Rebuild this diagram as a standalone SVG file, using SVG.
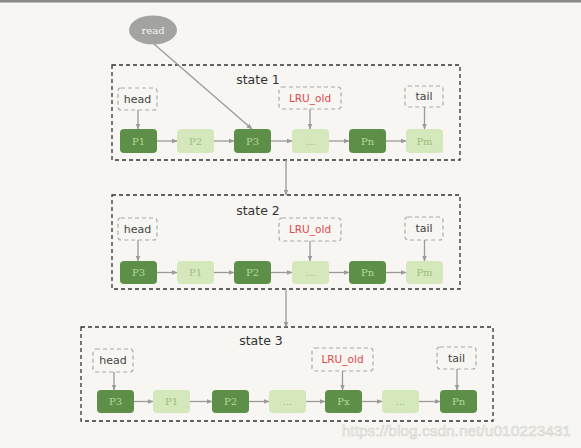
<svg xmlns="http://www.w3.org/2000/svg" width="581" height="448" viewBox="0 0 581 448">
<defs>
<marker id="ah" viewBox="0 0 10 10" refX="9" refY="5" markerWidth="6" markerHeight="6" orient="auto" markerUnits="userSpaceOnUse">
<path d="M0,1 L10,5 L0,9 z" fill="#9a9a98"/>
</marker>
<style>
.frame{fill:none;stroke:#333;stroke-width:1.3;stroke-dasharray:4,3}
.ptr{fill:#f7f6f2;stroke:#aaa;stroke-width:1.2;stroke-dasharray:4,3}
.dk{fill:#5e8f48}
.lt{fill:#d4e8bb}
.dkt{fill:#b4d89a;font-family:"DejaVu Serif",serif;font-size:10px;text-anchor:middle}
.ltt{fill:#9cbf7c;font-family:"DejaVu Serif",serif;font-size:10px;text-anchor:middle}
.lbl{fill:#444;font-family:"DejaVu Sans",sans-serif;font-size:11px;text-anchor:middle}
.red{fill:#e04a4a;font-family:"DejaVu Sans",sans-serif;font-size:10.5px;text-anchor:middle}
.st{fill:#333;font-family:"DejaVu Sans",sans-serif;font-size:12.5px;text-anchor:middle}
.c{stroke:#9a9a98;stroke-width:1.3;fill:none;marker-end:url(#ah)}
</style>
</defs>
<rect x="0" y="0" width="581" height="448" fill="#f7f6f2"/>
<rect x="0" y="0" width="581" height="2.5" fill="#8a8a8a"/>

<g id="read">
<ellipse cx="153" cy="30" rx="24" ry="14.5" fill="#a3a3a1"/>
<text x="153" y="34" font-family="DejaVu Serif,serif" font-size="10" fill="#f4f4f4" text-anchor="middle">read</text>
</g>

<g id="state1">
<rect class="frame" x="112" y="65" width="348" height="95"/>
<text class="st" x="258" y="84">state 1</text>
</g>
<g id="s1-head"><rect class="ptr" x="118" y="88" width="39" height="22" rx="3"/><text class="lbl" x="137.5" y="103">head</text></g>
<g id="s1-lru"><rect class="ptr" x="279" y="87" width="62" height="22" rx="3"/><text class="red" x="310" y="102">LRU_old</text></g>
<g id="s1-tail"><rect class="ptr" x="405" y="86" width="38" height="21" rx="3"/><text class="lbl" x="424" y="100">tail</text></g>
<g id="s1-p1"><rect class="dk" x="120" y="129" width="37" height="24" rx="4"/><text class="dkt" x="138.5" y="145">P1</text></g>
<g id="s1-p2"><rect class="lt" x="177" y="129" width="37" height="24" rx="4"/><text class="ltt" x="195.5" y="145">P2</text></g>
<g id="s1-p3"><rect class="dk" x="234" y="129" width="37" height="24" rx="4"/><text class="dkt" x="252.5" y="145">P3</text></g>
<g id="s1-dots"><rect class="lt" x="292" y="129" width="37" height="24" rx="4"/><text class="ltt" x="310.5" y="145">...</text></g>
<g id="s1-pn"><rect class="dk" x="349" y="129" width="37" height="24" rx="4"/><text class="dkt" x="367.5" y="145">Pn</text></g>
<g id="s1-pm"><rect class="lt" x="406" y="129" width="37" height="24" rx="4"/><text class="ltt" x="424.5" y="145">Pm</text></g>

<g id="state2">
<rect class="frame" x="112" y="195" width="348" height="94"/>
<text class="st" x="258" y="215">state 2</text>
</g>
<g id="s2-head"><rect class="ptr" x="118" y="218" width="39" height="22" rx="3"/><text class="lbl" x="137.5" y="233">head</text></g>
<g id="s2-lru"><rect class="ptr" x="279" y="218" width="62" height="23" rx="3"/><text class="red" x="310" y="233">LRU_old</text></g>
<g id="s2-tail"><rect class="ptr" x="405" y="217" width="38" height="23" rx="3"/><text class="lbl" x="424" y="232">tail</text></g>
<g id="s2-p3"><rect class="dk" x="120" y="261" width="37" height="23" rx="4"/><text class="dkt" x="138.5" y="276">P3</text></g>
<g id="s2-p1"><rect class="lt" x="177" y="261" width="37" height="23" rx="4"/><text class="ltt" x="195.5" y="276">P1</text></g>
<g id="s2-p2"><rect class="dk" x="234" y="261" width="37" height="23" rx="4"/><text class="dkt" x="252.5" y="276">P2</text></g>
<g id="s2-dots"><rect class="lt" x="292" y="261" width="37" height="23" rx="4"/><text class="ltt" x="310.5" y="276">...</text></g>
<g id="s2-pn"><rect class="dk" x="349" y="261" width="37" height="23" rx="4"/><text class="dkt" x="367.5" y="276">Pn</text></g>
<g id="s2-pm"><rect class="lt" x="406" y="261" width="37" height="23" rx="4"/><text class="ltt" x="424.5" y="276">Pm</text></g>

<g id="state3">
<rect class="frame" x="81" y="327" width="412" height="94"/>
<text class="st" x="261" y="345">state 3</text>
</g>
<g id="s3-head"><rect class="ptr" x="93" y="349" width="40" height="23" rx="3"/><text class="lbl" x="113" y="364">head</text></g>
<g id="s3-lru"><rect class="ptr" x="312" y="348" width="61" height="23" rx="3"/><text class="red" x="342.5" y="363">LRU_old</text></g>
<g id="s3-tail"><rect class="ptr" x="437" y="347" width="39" height="22" rx="3"/><text class="lbl" x="456.5" y="362">tail</text></g>
<g id="s3-p3"><rect class="dk" x="97" y="390" width="37" height="23" rx="4"/><text class="dkt" x="115.5" y="405">P3</text></g>
<g id="s3-p1"><rect class="lt" x="153" y="390" width="37" height="23" rx="4"/><text class="ltt" x="171.5" y="405">P1</text></g>
<g id="s3-p2"><rect class="dk" x="212" y="390" width="37" height="23" rx="4"/><text class="dkt" x="230.5" y="405">P2</text></g>
<g id="s3-dots1"><rect class="lt" x="269" y="390" width="37" height="23" rx="4"/><text class="ltt" x="287.5" y="405">...</text></g>
<g id="s3-px"><rect class="dk" x="325" y="390" width="37" height="23" rx="4"/><text class="dkt" x="343.5" y="405">Px</text></g>
<g id="s3-dots2"><rect class="lt" x="382" y="390" width="37" height="23" rx="4"/><text class="ltt" x="400.5" y="405">...</text></g>
<g id="s3-pn"><rect class="dk" x="440" y="390" width="37" height="23" rx="4"/><text class="dkt" x="458.5" y="405">Pn</text></g>

<g id="connectors">
<line class="c" x1="154" y1="44" x2="252" y2="129"/>
<line class="c" x1="138" y1="110" x2="138" y2="129"/>
<line class="c" x1="310" y1="109" x2="310" y2="129"/>
<line class="c" x1="424.5" y1="107" x2="424.5" y2="129"/>
<line class="c" x1="157" y1="141" x2="177" y2="141"/>
<line class="c" x1="214" y1="141" x2="234" y2="141"/>
<line class="c" x1="271" y1="141" x2="292" y2="141"/>
<line class="c" x1="329" y1="141" x2="349" y2="141"/>
<line class="c" x1="386" y1="141" x2="406" y2="141"/>
<line class="c" x1="286" y1="160" x2="286" y2="195"/>
<line class="c" x1="138" y1="240" x2="138" y2="261"/>
<line class="c" x1="310" y1="241" x2="310" y2="261"/>
<line class="c" x1="424.5" y1="240" x2="424.5" y2="261"/>
<line class="c" x1="157" y1="272.5" x2="177" y2="272.5"/>
<line class="c" x1="214" y1="272.5" x2="234" y2="272.5"/>
<line class="c" x1="271" y1="272.5" x2="292" y2="272.5"/>
<line class="c" x1="329" y1="272.5" x2="349" y2="272.5"/>
<line class="c" x1="386" y1="272.5" x2="406" y2="272.5"/>
<line class="c" x1="286" y1="289" x2="286" y2="327"/>
<line class="c" x1="114" y1="372" x2="114" y2="390"/>
<line class="c" x1="342.5" y1="371" x2="342.5" y2="390"/>
<line class="c" x1="457" y1="369" x2="457" y2="390"/>
<line class="c" x1="134" y1="401.5" x2="153" y2="401.5"/>
<line class="c" x1="190" y1="401.5" x2="212" y2="401.5"/>
<line class="c" x1="249" y1="401.5" x2="269" y2="401.5"/>
<line class="c" x1="306" y1="401.5" x2="325" y2="401.5"/>
<line class="c" x1="362" y1="401.5" x2="382" y2="401.5"/>
<line class="c" x1="419" y1="401.5" x2="440" y2="401.5"/>
</g>

<text x="571" y="436" font-family="Liberation Sans,Arial,sans-serif" font-size="15.5" fill="#f1f0ec" stroke="#d6d5d1" stroke-width="0.6" text-anchor="end">https://blog.csdn.net/u010223431</text>
</svg>
